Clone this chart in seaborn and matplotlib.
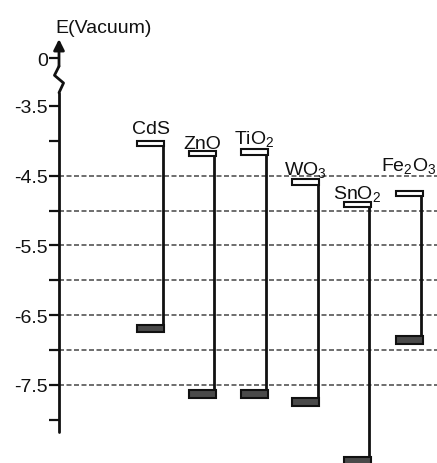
import numpy as np
import matplotlib
matplotlib.use("Agg")
import matplotlib.pyplot as plt
import matplotlib.transforms as mtransforms
import seaborn as sns

# band edges (eV vs vacuum)
materials = ["CdS", "ZnO", r"TiO$_{\mathregular{2}}$", r"WO$_{\mathregular{3}}$",
             r"SnO$_{\mathregular{2}}$", r"Fe$_{\mathregular{2}}$O$_{\mathregular{3}}$"]
cb_edge = [-4.04, -4.18, -4.16, -4.59, -4.91, -4.75]
vb_edge = [-6.69, -7.63, -7.63, -7.75, -8.59, -6.86]

major_ticks = [-3.5, -4.5, -5.5, -6.5, -7.5]
minor_ticks = [-4.0, -5.0, -6.0, -7.0, -8.0]
grid_levels = [-4.5, -5.0, -5.5, -6.0, -6.5, -7.0, -7.5]

# label gap above each conduction band box, in points
label_gap = [6, 2, 4, 3, 2, 14]

sns.set_theme(style="white")
plt.rcParams["font.family"] = ["Liberation Sans", "DejaVu Sans"]
plt.rcParams["mathtext.fontset"] = "custom"
plt.rcParams["mathtext.rm"] = "Liberation Sans"

fig = plt.figure(figsize=(4.37, 4.64), dpi=100)
ax = fig.add_axes([59 / 437, 0, 378 / 437, 1])
ax.set_xlim(-1.78, 5.54)
ax.set_ylim(-8.622, -1.965)
for s in ax.spines.values():
    s.set_visible(False)

zero_pos = -2.816  # where "0" sits above the axis break
box_w = 0.52

trans = mtransforms.blended_transform_factory(ax.transAxes, ax.transData)

# dashed reference levels
for lv in grid_levels:
    ax.axhline(lv, color="#555555", lw=1.2, ls=(0, (3, 1.5)), zorder=1)

x = np.arange(len(materials))
# conduction bands (open boxes) and valence bands (filled boxes)
ax.bar(x, 0.075, bottom=np.array(cb_edge) - 0.0375, width=box_w,
       color="white", edgecolor="#111111", linewidth=1.5, zorder=3)
ax.bar(x, 0.11, bottom=np.array(vb_edge) - 0.055, width=box_w,
       color="#4a4a4a", edgecolor="#111111", linewidth=1.5, zorder=3, clip_on=False)
ax.vlines(x + box_w / 2 - 0.03, vb_edge, cb_edge, color="#111111", lw=2, zorder=2)

for xi, name, cb, gap in zip(x, materials, cb_edge, label_gap):
    ax.annotate(name, (xi, cb + 0.0375), xytext=(0, gap), textcoords="offset points",
                ha="center", va="baseline", fontsize=14, color="#111111")

# axis with break and arrow
k = dict(color="#111111", lw=2, transform=trans, clip_on=False, zorder=4)
ax.plot([0, 0], [-8.18, -3.31], **k)
ax.plot([0, 0.012, -0.012, 0], [-3.31, -3.17, -3.06, -2.93], **k)
ax.annotate("", xy=(0, -2.54), xytext=(0, -2.93), xycoords=trans, textcoords=trans,
            arrowprops=dict(arrowstyle="-|>", lw=2, color="#111111", mutation_scale=16,
                            shrinkA=0, shrinkB=0))
ax.text(0.119, -2.44, "E(Vacuum)", transform=trans, ha="center", va="baseline",
        fontsize=14, color="#111111")

ax.set_xticks([])
ax.set_yticks([zero_pos] + major_ticks)
ax.set_yticklabels(["0"] + [f"{t:g}" for t in major_ticks])
ax.set_yticks(minor_ticks, minor=True)
ax.tick_params(axis="y", which="both", direction="out", length=7, width=1.6,
               color="#111111", pad=1, labelsize=14, labelcolor="#111111", left=True)

fig.savefig("out.png", dpi=100)
